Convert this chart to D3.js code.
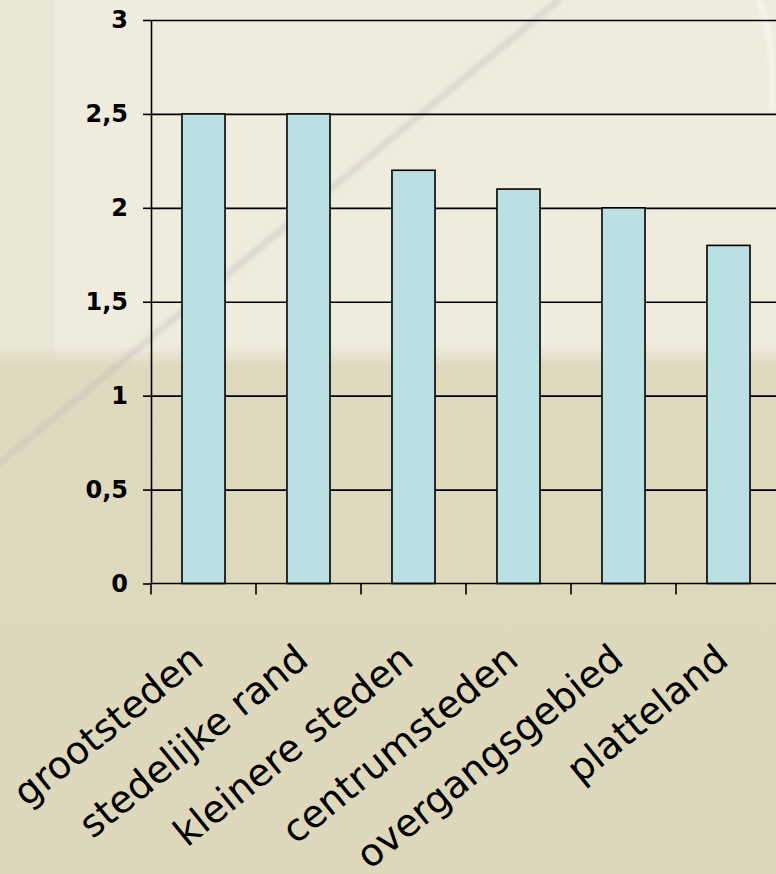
<!DOCTYPE html>
<html>
<head>
<meta charset="utf-8">
<script src="https://cdn.jsdelivr.net/npm/d3@7"></script>
<style>
  html, body { margin: 0; padding: 0; overflow: hidden; }
  svg { display: block; }
</style>
</head>
<body>
<svg id="chart" width="776" height="874"></svg>
<script>
// chart data
const categories = ['grootsteden', 'stedelijke rand', 'kleinere steden', 'centrumsteden', 'overgangsgebied', 'platteland']
const values = [2.5, 2.5, 2.2, 2.1, 2.0, 1.8]
const yTicks = [0, 0.5, 1, 1.5, 2, 2.5, 3]
const yTickLabels = ['0', '0,5', '1', '1,5', '2', '2,5', '3']

const W = 776, H = 874
const margin = {top: 20, left: 151, bottom: 290.5}

var svg = d3.select('#chart')

// slide background (light upper part, darker lower part, left strip)
var defs = svg.append('defs')
var grad = defs.append('linearGradient').attr('id', 'bgGrad')
  .attr('x1', 0).attr('y1', 0).attr('x2', 0).attr('y2', 1)
grad.append('stop').attr('offset', '0%').attr('stop-color', '#efebdd')
grad.append('stop').attr('offset', '39.5%').attr('stop-color', '#efebdd')
grad.append('stop').attr('offset', '42%').attr('stop-color', '#dfd9bf')
grad.append('stop').attr('offset', '100%').attr('stop-color', '#ddd7bb')
var gradL = defs.append('linearGradient').attr('id', 'bgGradL')
  .attr('x1', 0).attr('y1', 0).attr('x2', 0).attr('y2', 1)
gradL.append('stop').attr('offset', '0%').attr('stop-color', '#e9e6d3')
gradL.append('stop').attr('offset', '39.5%').attr('stop-color', '#e9e6d3')
gradL.append('stop').attr('offset', '42%').attr('stop-color', '#dedabf')
gradL.append('stop').attr('offset', '100%').attr('stop-color', '#dcd8bc')
defs.append('filter').attr('id', 'blur').append('feGaussianBlur').attr('stdDeviation', 2)

svg.append('rect').attr('width', W).attr('height', H).attr('fill', 'url(#bgGrad)')
svg.append('rect').attr('width', 55).attr('height', H).attr('fill', 'url(#bgGradL)')

svg.append('line')
  .attr('x1', -10).attr('y1', 471).attr('x2', 560).attr('y2', -1)
  .attr('stroke', '#b9b1b6').attr('stroke-width', 6).attr('opacity', 0.35)
  .attr('filter', 'url(#blur)')
svg.append('path')
  .attr('d', 'M 758 0 Q 776 40 772 110')
  .attr('fill', 'none').attr('stroke', '#ffffff').attr('stroke-width', 6).attr('opacity', 0.5)
  .attr('filter', 'url(#blur)')

var x = d3.scaleBand()
  .domain(categories)
  .range([margin.left, margin.left + 630])
  .paddingInner(0.59)
  .paddingOuter(0.295)

var y = d3.scaleLinear()
  .domain([0, 3])
  .range([H - margin.bottom, margin.top])

// gridlines
svg.append('g')
  .attr('transform', 'translate(' + margin.left + ',0)')
  .call(d3.axisRight(y).tickValues(yTicks.slice(1)).tickSize(W - margin.left).tickFormat(''))
  .call(g => g.select('.domain').remove())
  .selectAll('line')
  .attr('stroke', '#000').attr('stroke-width', 1.6)

// bars
svg.append('g').selectAll('rect')
  .data(values)
  .enter().append('rect')
  .attr('x', function(d, i) { return x(categories[i]) })
  .attr('y', function(d) { return y(d) })
  .attr('width', x.bandwidth())
  .attr('height', function(d) { return y(0) - y(d) })
  .attr('fill', '#bbe0e3')
  .attr('stroke', '#000')
  .attr('stroke-width', 1.6)

// y axis
var yAxis = svg.append('g')
  .attr('transform', 'translate(' + margin.left + ',0)')
  .call(d3.axisLeft(y)
    .tickValues(yTicks)
    .tickSize(8)
    .tickSizeOuter(0)
    .tickPadding(15)
    .tickFormat(function(d, i) { return yTickLabels[i] }))
yAxis.select('.domain').attr('stroke', '#000').attr('stroke-width', 1.6)
yAxis.selectAll('line').attr('stroke', '#000').attr('stroke-width', 1.6)
yAxis.selectAll('text')
  .attr('fill', '#000')
  .style('font-family', '"DejaVu Sans", Verdana, sans-serif')
  .style('font-size', '24px')
  .style('font-weight', 'bold')

// x axis baseline and ticks between categories
var xAxis = svg.append('g')
xAxis.append('line')
  .attr('x1', margin.left).attr('x2', W)
  .attr('y1', y(0)).attr('y2', y(0))
  .attr('stroke', '#000').attr('stroke-width', 1.6)
xAxis.selectAll('.tick')
  .data(categories.concat(['']))
  .enter().append('line')
  .attr('class', 'tick')
  .attr('x1', function(d, i) { return margin.left + i * x.step() })
  .attr('x2', function(d, i) { return margin.left + i * x.step() })
  .attr('y1', y(0)).attr('y2', y(0) + 11)
  .attr('stroke', '#000').attr('stroke-width', 1.6)

xAxis.selectAll('text')
  .data(categories)
  .enter().append('text')
  .attr('transform', function(d) {
    return 'translate(' + (x(d) + x.bandwidth() / 2 + 2) + ',' + 663 + ') rotate(-39)'
  })
  .attr('text-anchor', 'end')
  .attr('fill', '#000')
  .style('font-family', '"DejaVu Sans", Verdana, sans-serif')
  .style('font-size', '38px')
  .text(function(d) { return d })
</script>
</body>
</html>
